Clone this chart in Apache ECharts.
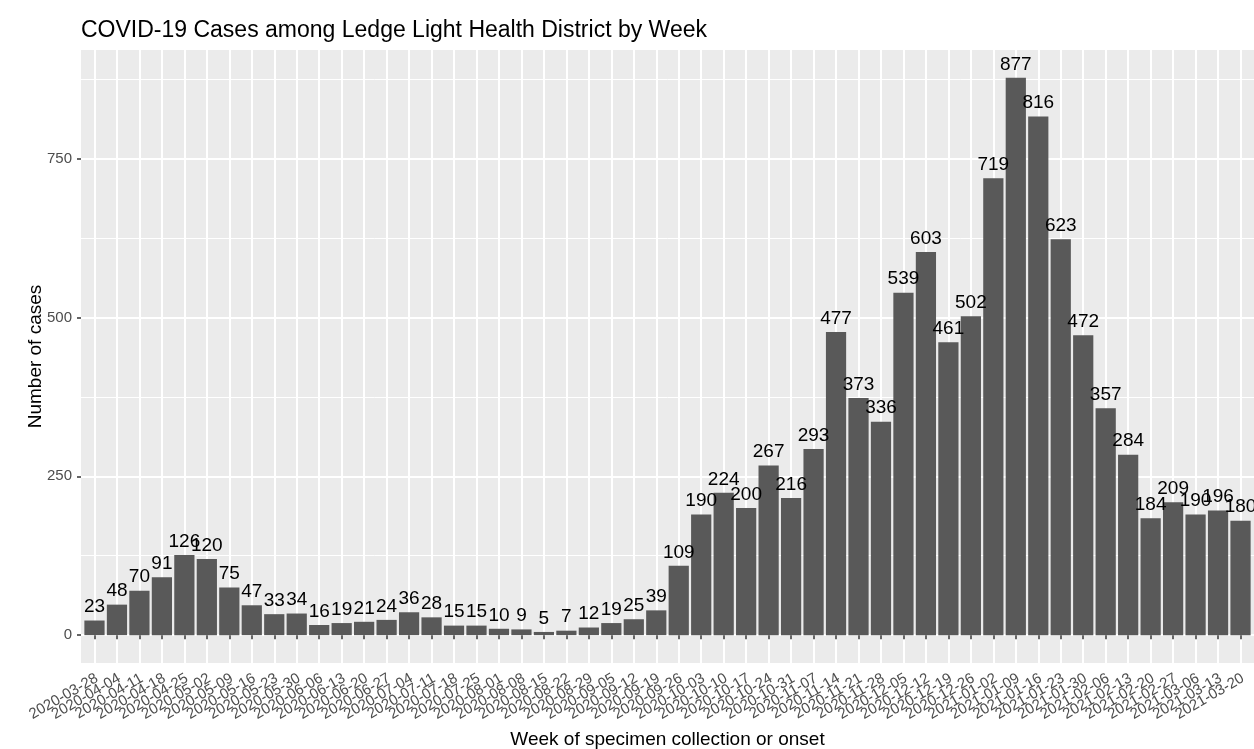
<!DOCTYPE html>
<html>
<head>
<meta charset="utf-8">
<script src="https://cdn.jsdelivr.net/npm/echarts@6/dist/echarts.min.js"></script>
<style>
html,body{margin:0;padding:0;background:#fff;}
#chart{width:1254px;height:749px;}
</style>
</head>
<body>
<div id="chart"></div>
<script>
const weeks = ["2020-03-28","2020-04-04","2020-04-11","2020-04-18","2020-04-25","2020-05-02","2020-05-09","2020-05-16","2020-05-23","2020-05-30","2020-06-06","2020-06-13","2020-06-20","2020-06-27","2020-07-04","2020-07-11","2020-07-18","2020-07-25","2020-08-01","2020-08-08","2020-08-15","2020-08-22","2020-08-29","2020-09-05","2020-09-12","2020-09-19","2020-09-26","2020-10-03","2020-10-10","2020-10-17","2020-10-24","2020-10-31","2020-11-07","2020-11-14","2020-11-21","2020-11-28","2020-12-05","2020-12-12","2020-12-19","2020-12-26","2021-01-02","2021-01-09","2021-01-16","2021-01-23","2021-01-30","2021-02-06","2021-02-13","2021-02-20","2021-02-27","2021-03-06","2021-03-13","2021-03-20"];
const cases = [23,48,70,91,126,120,75,47,33,34,16,19,21,24,36,28,15,15,10,9,5,7,12,19,25,39,109,190,224,200,267,216,293,477,373,336,539,603,461,502,719,877,816,623,472,357,284,184,209,190,196,180];
const yMajorTicks = [0,250,500,750];
const yMinorTicks = [125,375,625,875];

const FONT = "'Liberation Sans', Arial, sans-serif";
const positions = weeks.map((w, i) => i + 1);
const xMin = 0.4, xMax = weeks.length + 0.6;
// edge entries (empty labels) absorb ECharts' min/max-label overlap handling
const xTickValues = [xMin].concat(positions, [xMax]);
const maxVal = Math.max.apply(null, cases);
const yMin = -0.05 * maxVal, yMax = 1.05 * maxVal;

const chart = echarts.init(document.getElementById('chart'), null, {renderer: 'canvas'});
chart.setOption({
  backgroundColor: '#ffffff',
  animation: false,
  title: {
    text: 'COVID-19 Cases among Ledge Light Health District by Week',
    left: 81, top: 19, padding: 0,
    textStyle: {fontFamily: FONT, fontSize: 23, fontWeight: 'normal', color: '#000000'}
  },
  grid: {
    left: 81, right: 0, top: 50, bottom: 86,
    show: true, backgroundColor: '#EBEBEB', borderWidth: 0,
    containLabel: false, outerBoundsMode: 'none'
  },
  xAxis: {
    type: 'value',
    min: xMin, max: xMax,
    name: 'Week of specimen collection or onset',
    nameLocation: 'middle', nameGap: 67, nameMoveOverlap: false,
    nameTextStyle: {fontFamily: FONT, fontSize: 19, color: '#000000'},
    axisLine: {show: false},
    axisTick: {show: true, customValues: xTickValues, length: 4, lineStyle: {color: '#333333', width: 1.5}},
    axisLabel: {
      customValues: xTickValues, rotate: 30, margin: 10,
      verticalAlign: 'top', lineHeight: 10,
      showMinLabel: false, showMaxLabel: false, hideOverlap: false,
      fontFamily: FONT, fontSize: 15, color: '#4D4D4D',
      formatter: v => {
        const k = Math.round(v);
        return (Math.abs(v - k) < 1e-6 && weeks[k - 1]) ? weeks[k - 1] : '';
      }
    },
    splitLine: {show: true, showMinLine: false, showMaxLine: false, lineStyle: {color: '#ffffff', width: 2}},
    minorSplitLine: {show: false}
  },
  yAxis: [{
    type: 'value',
    min: yMin, max: yMax,
    name: 'Number of cases',
    nameLocation: 'middle', nameGap: 36, nameRotate: 90, nameMoveOverlap: false,
    nameTextStyle: {fontFamily: FONT, fontSize: 19, color: '#000000'},
    axisLine: {show: false},
    axisTick: {show: true, customValues: yMajorTicks, length: 4, lineStyle: {color: '#333333', width: 1.5}},
    axisLabel: {customValues: yMajorTicks, margin: 9, showMinLabel: true, showMaxLabel: true, fontFamily: FONT, fontSize: 15, color: '#4D4D4D'},
    splitLine: {show: true, lineStyle: {color: '#ffffff', width: 2}}
  }, {
    type: 'value',
    position: 'left',
    min: yMin, max: yMax,
    axisLine: {show: false},
    axisTick: {show: false, customValues: yMinorTicks},
    axisLabel: {show: false, customValues: yMinorTicks},
    splitLine: {show: true, lineStyle: {color: '#ffffff', width: 1}}
  }],
  series: [{
    type: 'bar',
    xAxisIndex: 0, yAxisIndex: 0,
    data: cases.map((v, i) => [positions[i], v]),
    barWidth: '90%',
    itemStyle: {color: '#595959'},
    label: {
      show: true, position: 'top', distance: 4,
      fontFamily: FONT, fontSize: 19, color: '#000000',
      formatter: p => String(p.value[1])
    }
  }]
});
</script>
</body>
</html>
